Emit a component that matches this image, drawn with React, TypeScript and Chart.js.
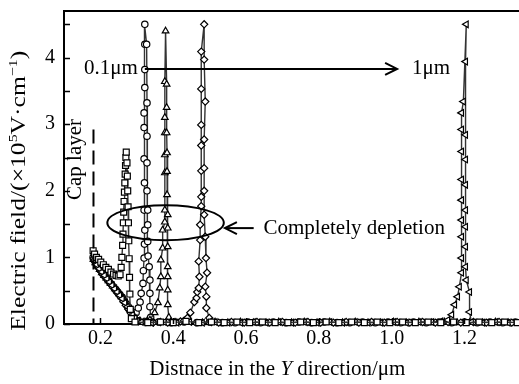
import React, { useEffect, useRef } from 'react';
import { Chart, registerables } from 'chart.js';
Chart.register(...registerables);

const SERIF = '"Liberation Serif", "Times New Roman", serif';

// ---- axes ----
const xTickValues = [0.2, 0.4, 0.6, 0.8, 1.0, 1.2];
const yTickValues = [0, 1, 2, 3, 4];
const yMinorValues = [0.5, 1.5, 2.5, 3.5, 4.5];
const X_MIN = 0.1;
const X_MAX = 1.335;
const Y_MIN = 0;
const Y_MAX = 4.7;

// ---- series: squares (cap layer only) ----
const sqX = [0.180, 0.184, 0.189, 0.195, 0.201, 0.208, 0.215, 0.222, 0.229, 0.236, 0.243, 0.249, 0.254, 0.257, 0.259, 0.261, 0.262, 0.263, 0.264, 0.265, 0.266, 0.267, 0.268, 0.269, 0.270, 0.271, 0.273, 0.274, 0.275, 0.276, 0.277, 0.278, 0.279, 0.280, 0.281, 0.282, 0.285, 0.295,
  0.33, 0.365, 0.40, 0.435, 0.47, 0.505, 0.54, 0.575, 0.61, 0.645, 0.68, 0.715, 0.75, 0.785, 0.82, 0.855, 0.89, 0.925, 0.96, 0.995, 1.03, 1.065, 1.10, 1.135, 1.17, 1.205, 1.24, 1.275, 1.31, 1.345];
const sqY = [1.10, 1.05, 1.00, 0.97, 0.93, 0.89, 0.85, 0.82, 0.78, 0.75, 0.73, 0.72, 0.74, 0.85, 1.00, 1.18, 1.35, 1.52, 1.68, 1.84, 1.98, 2.12, 2.25, 2.38, 2.50, 2.58, 2.42, 2.22, 2.00, 1.76, 1.52, 1.25, 0.98, 0.70, 0.45, 0.22, 0.08, 0.03,
  0.02, 0.03, 0.02, 0.04, 0.02, 0.03, 0.02, 0.03, 0.02, 0.03, 0.02, 0.02, 0.03, 0.02, 0.03, 0.02, 0.03, 0.02, 0.03, 0.02, 0.03, 0.02, 0.03, 0.02, 0.03, 0.02, 0.03, 0.02, 0.03, 0.02];

// ---- series: circles (0.1 um) ----
const ciX = [0.180, 0.184, 0.189, 0.194, 0.200, 0.206, 0.212, 0.218, 0.224, 0.230, 0.236, 0.242, 0.248, 0.254, 0.260, 0.266, 0.272, 0.278, 0.284, 0.291, 0.298, 0.304, 0.309, 0.312, 0.317, 0.318, 0.320, 0.321, 0.322, 0.320, 0.321, 0.320, 0.320, 0.320, 0.322, 0.322, 0.322, 0.322,
  0.327, 0.328, 0.328, 0.328, 0.328, 0.330, 0.330, 0.330, 0.331, 0.334, 0.336, 0.336, 0.336, 0.338, 0.343,
  0.36, 0.395, 0.43, 0.465, 0.50, 0.535, 0.57, 0.605, 0.64, 0.675, 0.71, 0.745, 0.78, 0.815, 0.85, 0.885, 0.92, 0.955, 0.99, 1.025, 1.06, 1.095, 1.13, 1.165, 1.20, 1.235, 1.27, 1.305, 1.34];
const ciY = [1.00, 0.95, 0.90, 0.86, 0.81, 0.76, 0.72, 0.68, 0.64, 0.60, 0.56, 0.52, 0.48, 0.44, 0.40, 0.35, 0.30, 0.25, 0.20, 0.16, 0.17, 0.24, 0.33, 0.46, 0.61, 0.80, 0.99, 1.20, 1.41, 1.71, 2.12, 2.48, 2.95, 3.17, 3.55, 3.82, 4.20, 4.50,
  4.20, 3.32, 2.82, 2.42, 2.00, 1.71, 1.49, 1.24, 1.02, 0.86, 0.66, 0.46, 0.26, 0.10, 0.03,
  0.03, 0.02, 0.03, 0.02, 0.03, 0.02, 0.02, 0.03, 0.02, 0.03, 0.02, 0.03, 0.02, 0.03, 0.02, 0.02, 0.03, 0.02, 0.03, 0.02, 0.03, 0.02, 0.03, 0.02, 0.03, 0.02, 0.03, 0.02, 0.03];

// ---- series: triangles ----
const trX = [0.181, 0.186, 0.192, 0.198, 0.204, 0.210, 0.216, 0.222, 0.228, 0.234, 0.240, 0.246, 0.252, 0.258, 0.264, 0.270, 0.276, 0.282, 0.288, 0.294, 0.300, 0.310, 0.320, 0.328,
  0.336, 0.349, 0.358, 0.363, 0.366, 0.366, 0.371, 0.371, 0.377, 0.377, 0.377, 0.377, 0.377, 0.377, 0.377, 0.379,
  0.382, 0.382, 0.382, 0.383, 0.383, 0.383, 0.385, 0.385, 0.385, 0.385, 0.385, 0.385, 0.385, 0.388, 0.393,
  0.41, 0.445, 0.48, 0.515, 0.55, 0.585, 0.62, 0.655, 0.69, 0.725, 0.76, 0.795, 0.83, 0.865, 0.90, 0.935, 0.97, 1.005, 1.04, 1.075, 1.11, 1.145, 1.18, 1.215, 1.25, 1.285, 1.32];
const trY = [0.97, 0.92, 0.87, 0.82, 0.77, 0.73, 0.69, 0.65, 0.61, 0.57, 0.53, 0.49, 0.45, 0.41, 0.36, 0.31, 0.26, 0.21, 0.15, 0.10, 0.06, 0.04, 0.03, 0.04,
  0.06, 0.17, 0.32, 0.54, 0.71, 0.96, 1.14, 1.41, 1.53, 1.71, 2.27, 2.54, 2.87, 3.10, 3.64, 4.40,
  3.60, 3.25, 2.87, 2.57, 2.29, 1.94, 1.64, 1.44, 1.16, 0.86, 0.71, 0.51, 0.29, 0.10, 0.03,
  0.02, 0.03, 0.02, 0.03, 0.02, 0.03, 0.02, 0.02, 0.03, 0.02, 0.03, 0.02, 0.03, 0.02, 0.03, 0.02, 0.02, 0.03, 0.02, 0.03, 0.02, 0.03, 0.02, 0.03, 0.02, 0.03, 0.02];

// ---- series: diamonds ----
const diX = [0.182, 0.188, 0.194, 0.200, 0.207, 0.214, 0.221, 0.228, 0.235, 0.242, 0.249, 0.256, 0.263, 0.270, 0.277, 0.284, 0.291, 0.298, 0.305,
  0.325, 0.345, 0.365, 0.385, 0.405, 0.420, 0.430,
  0.439, 0.447, 0.458, 0.464, 0.466, 0.470, 0.472, 0.470, 0.474, 0.474, 0.477, 0.477, 0.477, 0.477, 0.477, 0.477, 0.477, 0.485,
  0.485, 0.488, 0.485, 0.485, 0.485, 0.485, 0.488, 0.490, 0.493, 0.488, 0.491, 0.491, 0.499, 0.505,
  0.525, 0.56, 0.595, 0.63, 0.665, 0.70, 0.735, 0.77, 0.805, 0.84, 0.875, 0.91, 0.945, 0.98, 1.015, 1.05, 1.085, 1.12, 1.155, 1.19, 1.225, 1.26, 1.295, 1.33];
const diY = [0.99, 0.92, 0.86, 0.80, 0.75, 0.70, 0.65, 0.60, 0.55, 0.50, 0.45, 0.40, 0.34, 0.28, 0.22, 0.16, 0.10, 0.06, 0.04,
  0.03, 0.02, 0.03, 0.02, 0.03, 0.04, 0.05,
  0.09, 0.17, 0.33, 0.39, 0.48, 0.54, 0.71, 0.94, 1.26, 1.49, 1.77, 1.91, 2.30, 2.68, 2.99, 3.53, 4.09, 4.50,
  3.97, 3.34, 2.77, 2.34, 2.00, 1.64, 1.31, 0.99, 0.77, 0.56, 0.41, 0.24, 0.09, 0.03,
  0.02, 0.03, 0.02, 0.03, 0.02, 0.03, 0.02, 0.03, 0.02, 0.02, 0.03, 0.02, 0.03, 0.02, 0.03, 0.02, 0.03, 0.02, 0.03, 0.02, 0.03, 0.02, 0.03, 0.02];

// ---- series: left triangles (1 um) ----
const ltX = [0.183, 0.190, 0.197, 0.204, 0.211, 0.218, 0.225, 0.232, 0.239, 0.246, 0.253, 0.260, 0.267, 0.274, 0.281, 0.288, 0.295, 0.302, 0.312,
  0.34, 0.375, 0.41, 0.445, 0.48, 0.515, 0.55, 0.585, 0.62, 0.655, 0.69, 0.725, 0.76, 0.795, 0.83, 0.865, 0.90, 0.935, 0.97, 1.005, 1.04, 1.075, 1.11, 1.135,
  1.154, 1.165, 1.173, 1.181, 1.186, 1.192, 1.192, 1.192, 1.192, 1.192, 1.192, 1.192, 1.192, 1.192, 1.197, 1.205,
  1.203, 1.203, 1.203, 1.203, 1.203, 1.203, 1.203, 1.203, 1.205, 1.214, 1.214, 1.219,
  1.25, 1.285, 1.32];
const ltY = [0.96, 0.89, 0.83, 0.78, 0.73, 0.68, 0.63, 0.58, 0.53, 0.48, 0.43, 0.38, 0.32, 0.26, 0.20, 0.14, 0.09, 0.05, 0.03,
  0.02, 0.03, 0.02, 0.03, 0.02, 0.03, 0.02, 0.02, 0.03, 0.02, 0.03, 0.02, 0.03, 0.02, 0.03, 0.02, 0.03, 0.02, 0.02, 0.03, 0.02, 0.03, 0.03, 0.04,
  0.06, 0.14, 0.29, 0.41, 0.56, 0.77, 0.99, 1.31, 1.56, 1.86, 2.17, 2.59, 2.92, 3.17, 3.34, 4.50,
  3.94, 2.84, 2.47, 2.09, 1.71, 1.46, 1.16, 0.86, 0.66, 0.48, 0.18, 0.03,
  0.02, 0.03, 0.02];

// ---- annotations ----
const capLayerX = 0.181;
const capLayerTop = 2.92;
const arrowY = 3.83;
const arrowFromX = 0.322;
const arrowToX = 1.015;
const ellipseCenter = { x: 0.379, y: 1.52 };
const ellipseRadius = { x: 0.160, y: 0.263 };
const depletionArrow = { fromX: 0.621, toX: 0.542, y: 1.44 };

function pts(xs: number[], ys: number[]) {
  const n = Math.min(xs.length, ys.length);
  const out: { x: number; y: number }[] = [];
  for (let i = 0; i < n; i++) out.push({ x: xs[i], y: ys[i] });
  return out;
}

function mk(label: string, xs: number[], ys: number[], style: string, radius: number, rotation = 0) {
  return {
    label,
    data: pts(xs, ys),
    showLine: true,
    borderColor: '#333333',
    borderWidth: 1.4,
    pointStyle: style,
    pointRadius: radius,
    pointRotation: rotation,
    pointBackgroundColor: '#ffffff',
    pointBorderColor: '#000000',
    pointBorderWidth: 1.2,
    clip: false,
    tension: 0,
    fill: false,
  };
}

function drawRich(ctx: CanvasRenderingContext2D, parts: { t: string; sup?: boolean; it?: boolean }[], cx: number, cy: number, size: number, targetLen = 0) {
  const supSize = Math.round(size * 0.62);
  const fontOf = (p: { sup?: boolean; it?: boolean }) => `${p.it ? 'italic ' : ''}${p.sup ? supSize : size}px ${SERIF}`;
  let total = 0;
  const widths = parts.map((p) => {
    ctx.font = fontOf(p);
    const w = ctx.measureText(p.t).width;
    total += w;
    return w;
  });
  const sx = targetLen > 0 ? targetLen / total : 1;
  ctx.save();
  ctx.translate(cx, cy);
  ctx.scale(sx, 1);
  let x = -total / 2;
  ctx.textAlign = 'left';
  ctx.textBaseline = 'alphabetic';
  parts.forEach((p, i) => {
    ctx.font = fontOf(p);
    ctx.fillText(p.t, x, size * 0.33 - (p.sup ? size * 0.38 : 0));
    x += widths[i];
  });
  ctx.restore();
}

function openArrowHead(ctx: CanvasRenderingContext2D, tipX: number, tipY: number, dir: number) {
  ctx.beginPath();
  ctx.moveTo(tipX - dir * 12, tipY - 6);
  ctx.lineTo(tipX, tipY);
  ctx.lineTo(tipX - dir * 12, tipY + 6);
  ctx.stroke();
}

const overlayPlugin = {
  id: 'overlay',
  afterDatasetsDraw(chart: any) {
    const { ctx, scales } = chart;
    const xs = scales.x;
    const ys = scales.y;
    ctx.save();
    ctx.strokeStyle = '#000';
    ctx.fillStyle = '#000';

    // cap layer dashed line
    ctx.lineWidth = 2;
    ctx.setLineDash([14, 7]);
    ctx.beginPath();
    ctx.moveTo(xs.getPixelForValue(capLayerX), ys.getPixelForValue(capLayerTop));
    ctx.lineTo(xs.getPixelForValue(capLayerX), ys.getPixelForValue(0));
    ctx.stroke();
    ctx.setLineDash([]);

    // 0.1um -> 1um arrow
    const ay = ys.getPixelForValue(arrowY);
    const ax1 = xs.getPixelForValue(arrowFromX);
    const ax2 = xs.getPixelForValue(arrowToX);
    ctx.lineWidth = 2;
    ctx.beginPath();
    ctx.moveTo(ax1, ay);
    ctx.lineTo(ax2, ay);
    ctx.stroke();
    openArrowHead(ctx, ax2, ay, 1);

    // ellipse
    const ecx = xs.getPixelForValue(ellipseCenter.x);
    const ecy = ys.getPixelForValue(ellipseCenter.y);
    const erx = Math.abs(xs.getPixelForValue(ellipseCenter.x + ellipseRadius.x) - ecx);
    const ery = Math.abs(ys.getPixelForValue(ellipseCenter.y + ellipseRadius.y) - ecy);
    ctx.lineWidth = 2;
    ctx.beginPath();
    ctx.ellipse(ecx, ecy, erx, ery, 0, 0, Math.PI * 2);
    ctx.stroke();

    // depletion arrow
    const dy = ys.getPixelForValue(depletionArrow.y);
    const dx1 = xs.getPixelForValue(depletionArrow.fromX);
    const dx2 = xs.getPixelForValue(depletionArrow.toX);
    ctx.beginPath();
    ctx.moveTo(dx1, dy);
    ctx.lineTo(dx2, dy);
    ctx.stroke();
    openArrowHead(ctx, dx2, dy, -1);

    // texts
    ctx.font = `21px ${SERIF}`;
    ctx.textBaseline = 'middle';
    ctx.textAlign = 'center';
    ctx.fillText('0.1μm', xs.getPixelForValue(0.229), ay);
    ctx.textAlign = 'left';
    ctx.fillText('1μm', xs.getPixelForValue(1.056), ay);
    ctx.fillText('Completely depletion', xs.getPixelForValue(0.648), dy);

    // Cap layer (rotated)
    ctx.save();
    ctx.translate(xs.getPixelForValue(0.132), ys.getPixelForValue(2.47));
    ctx.rotate(-Math.PI / 2);
    ctx.textAlign = 'center';
    ctx.textBaseline = 'middle';
    ctx.fillText('Cap layer', 0, 0);
    ctx.restore();

    ctx.restore();
  },
  afterDraw(chart: any) {
    const { ctx, chartArea, scales, width } = chart;
    const xs = scales.x;
    const ys = scales.y;
    ctx.save();
    ctx.strokeStyle = '#000';
    ctx.fillStyle = '#000';
    // top frame line
    ctx.lineWidth = 2;
    ctx.beginPath();
    ctx.moveTo(chartArea.left - 1, chartArea.top);
    ctx.lineTo(width, chartArea.top);
    ctx.stroke();
    // inward ticks
    ctx.lineWidth = 1.5;
    ctx.beginPath();
    yTickValues.concat(yMinorValues).forEach((v) => {
      const py = Math.round(ys.getPixelForValue(v)) + 0.5;
      ctx.moveTo(chartArea.left, py);
      ctx.lineTo(chartArea.left + 6, py);
    });
    xTickValues.forEach((v) => {
      const px = Math.round(xs.getPixelForValue(v)) + 0.5;
      ctx.moveTo(px, chartArea.bottom);
      ctx.lineTo(px, chartArea.bottom - 6);
    });
    ctx.stroke();

    // y axis title
    ctx.save();
    ctx.translate(18, ys.getPixelForValue(2.0));
    ctx.rotate(-Math.PI / 2);
    drawRich(ctx, [
      { t: 'Electric field/(×10' },
      { t: '5', sup: true },
      { t: 'V·cm' },
      { t: '−1', sup: true },
      { t: ')' },
    ], 0, 0, 21, 280);
    ctx.restore();

    // x axis title
    drawRich(ctx, [
      { t: 'Distnace in the ' },
      { t: 'Y', it: true },
      { t: ' direction/μm' },
    ], xs.getPixelForValue(0.686), chartArea.bottom + 44, 21);

    ctx.restore();
  },
};

export default function App() {
  const ref = useRef<HTMLCanvasElement | null>(null);
  useEffect(() => {
    if (!ref.current) return;
    const chart = new Chart(ref.current, {
      type: 'scatter',
      data: {
        datasets: [
          mk('squares', sqX, sqY, 'rect', 4.2),
          mk('left triangles', ltX, ltY, 'triangle', 3.8, -90),
          mk('diamonds', diX, diY, 'rectRot', 3.6),
          mk('triangles', trX, trY, 'triangle', 3.8),
          mk('circles', ciX, ciY, 'circle', 3.2),
        ] as any,
      },
      options: {
        animation: false,
        responsive: false,
        maintainAspectRatio: false,
        layout: { padding: { top: 11, left: 0, right: 0, bottom: 0 } },
        plugins: { legend: { display: false }, tooltip: { enabled: false } },
        scales: {
          x: {
            type: 'linear',
            min: X_MIN,
            max: X_MAX,
            afterBuildTicks: (s: any) => { s.ticks = xTickValues.map((v) => ({ value: v })); },
            afterFit: (s: any) => { s.height = 60; s.paddingLeft = 0; s.paddingRight = 0; },
            grid: { display: false, drawTicks: false },
            border: { display: true, color: '#000', width: 2 },
            ticks: {
              color: '#000',
              padding: 5,
              maxRotation: 0,
              font: { family: SERIF, size: 20, lineHeight: 1 },
              callback: (v: any) => Number(v).toFixed(1),
            },
          },
          y: {
            type: 'linear',
            min: Y_MIN,
            max: Y_MAX,
            afterBuildTicks: (s: any) => { s.ticks = yTickValues.map((v) => ({ value: v })); },
            afterFit: (s: any) => { s.width = 64; s.paddingTop = 0; s.paddingBottom = 0; },
            grid: { display: false, drawTicks: false },
            border: { display: true, color: '#000', width: 2 },
            ticks: {
              color: '#000',
              padding: 9,
              font: { family: SERIF, size: 20, lineHeight: 1 },
              callback: (v: any) => String(v),
            },
          },
        },
      } as any,
      plugins: [overlayPlugin],
    });
    return () => chart.destroy();
  }, []);
  return (
    <div style={{ position: 'fixed', left: 0, top: 0, width: 519, height: 384, background: '#fff' }}>
      <canvas ref={ref} width={519} height={384} style={{ display: 'block' }} />
    </div>
  );
}
